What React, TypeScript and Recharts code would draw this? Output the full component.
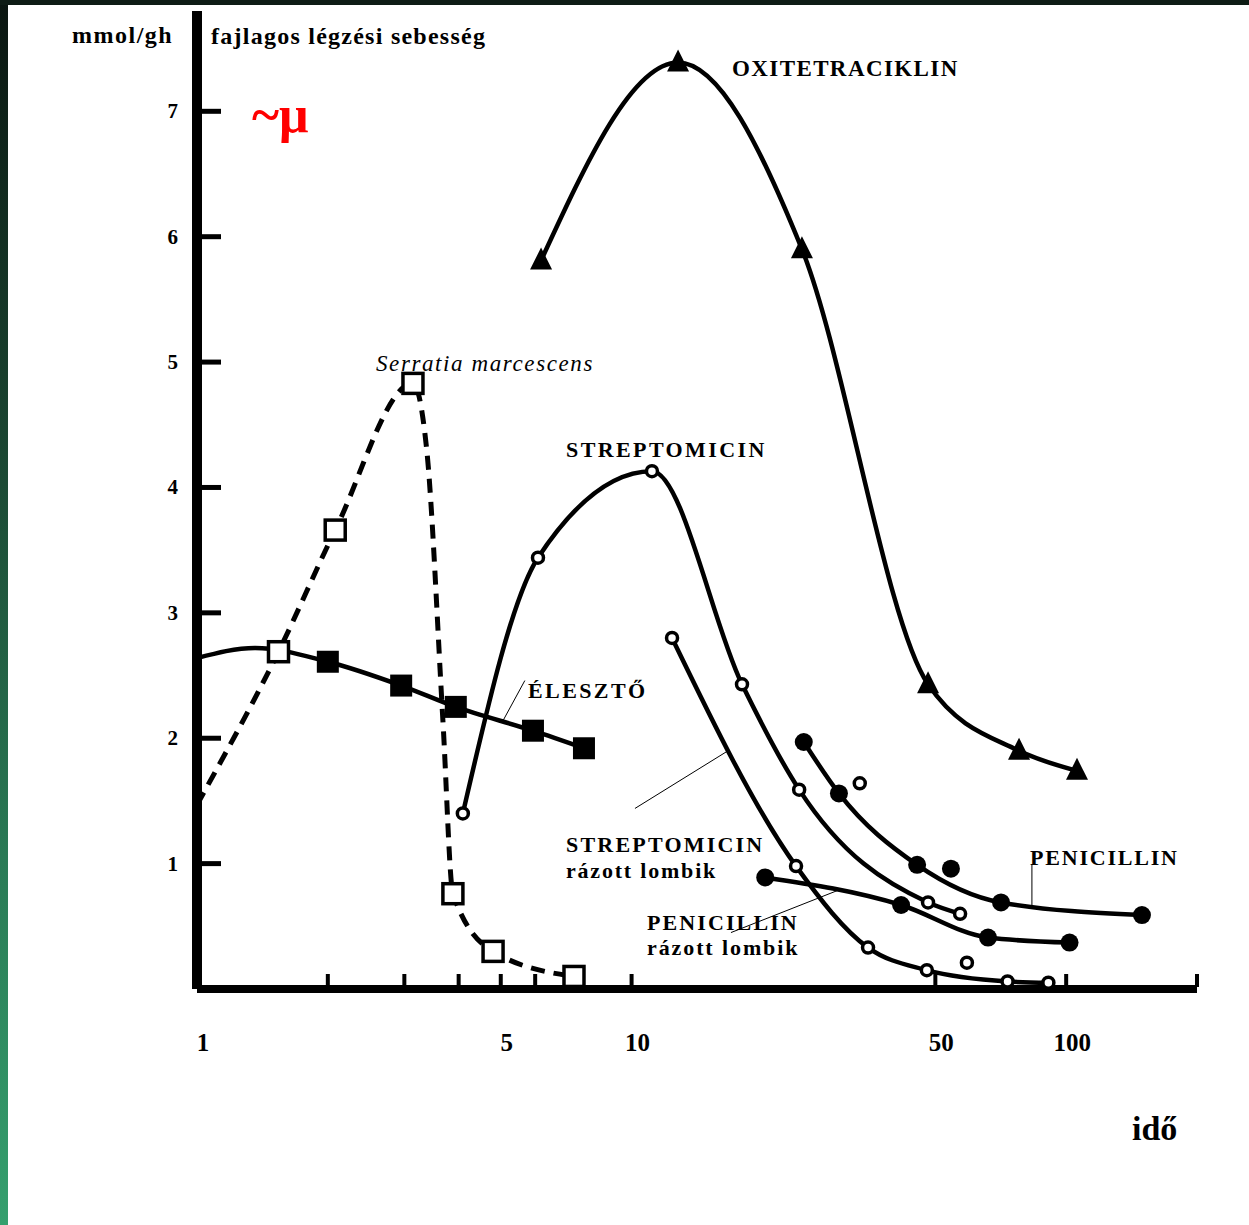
import { ComposedChart, Line, XAxis, YAxis, ReferenceLine } from 'recharts'

// idő (log scale) vs. fajlagos légzési sebesség (mmol/gh)
const serratiaT = [1, 1.54, 2.08, 3.14, 3.38, 3.68, 3.88, 4.8, 7.37]
const serratiaV = [1.47, 2.69, 3.66, 4.83, 4.29, 2.14, 0.76, 0.3, 0.1]
const serratiaM = ['', 'openSq', 'openSq', 'openSq', '', '', 'openSq', 'openSq', 'openSq']

const elesztoT = [1, 1.36, 2.0, 2.95, 3.94, 5.93, 7.77]
const elesztoV = [2.64, 2.72, 2.61, 2.42, 2.25, 2.06, 1.92]
const elesztoM = ['', '', 'fillSq', 'fillSq', 'fillSq', 'fillSq', 'fillSq']

const streptoT = [4.09, 6.09, 11.14, 17.95, 24.3, 48.1, 57.0]
const streptoV = [1.4, 3.44, 4.13, 2.43, 1.59, 0.69, 0.6]

const streptoRazT = [12.39, 23.9, 35.0, 47.8, 73.3, 91]
const streptoRazV = [2.8, 0.98, 0.33, 0.15, 0.06, 0.05]

const peniT = [24.9, 30.0, 45.4, 70.8, 149.4]
const peniV = [1.97, 1.56, 0.99, 0.69, 0.59]

const peniRazT = [20.3, 41.7, 66.1, 101.8]
const peniRazV = [0.89, 0.67, 0.41, 0.37]

const oxiT = [6.19, 12.79, 24.66, 48.1, 77.9, 105.9]
const oxiV = [5.81, 7.39, 5.9, 2.43, 1.9, 1.74]

// loose points that no curve goes through
const strayT = [33.5, 59.1, 54.3]
const strayV = [1.64, 0.21, 0.96]
const strayM = ['openCirc', 'openCirc', 'fillCirc']

const yTicks = [1, 2, 3, 4, 5, 6, 7]
const xTicks = [1, 2, 3, 4, 5, 6, 10, 50, 100, 200]
const xTickMarks = [2, 3, 4, 5, 6, 10, 50, 100, 200]
const xTickLabels = [1, 5, 10, 50, 100]

const build = (t: number[], v: number[], m: string[] | string) =>
    t.map((x, i) => ({ t: x, v: v[i], m: Array.isArray(m) ? m[i] : m }))

const FONT = '"Liberation Serif", "Times New Roman", serif'

const marker = (kind: string, cx: number, cy: number, key: string) => {
    switch (kind) {
        case 'openSq':
            return <rect key={key} x={cx - 10} y={cy - 10} width={20} height={20} fill="#fff" stroke="#000" strokeWidth={3.5} />
        case 'fillSq':
            return <rect key={key} x={cx - 11} y={cy - 11} width={22} height={22} fill="#000" />
        case 'openCirc':
            return <circle key={key} cx={cx} cy={cy} r={5.5} fill="#fff" stroke="#000" strokeWidth={3.5} />
        case 'fillCirc':
            return <circle key={key} cx={cx} cy={cy} r={9} fill="#000" />
        case 'tri':
            return <path key={key} d={`M${cx},${cy - 13} L${cx + 11},${cy + 9} L${cx - 11},${cy + 9} Z`} fill="#000" />
        default:
            return <g key={key} />
    }
}

const dotFor = (name: string) => (p: any) => marker(p.payload?.m, p.cx, p.cy, `${name}-${p.index}`)

const YTick = ({ x, y, payload }: any) => (
    <g>
        <line x1={x + 3} x2={x + 24} y1={y} y2={y} stroke="#000" strokeWidth={5} />
        <text x={x - 19} y={y + 7} textAnchor="end" fontFamily={FONT} fontWeight="bold" fontSize={21} fill="#000">
            {payload.value}
        </text>
    </g>
)

const XTick = ({ x, y, payload }: any) => {
    const v = payload.value
    return (
        <g>
            {xTickMarks.includes(v) && <line x1={x} x2={x} y1={y - 2} y2={y - 15} stroke="#000" strokeWidth={4} />}
            {xTickLabels.includes(v) && (
                <text x={x + 6} y={y + 62} textAnchor="middle" fontFamily={FONT} fontWeight="bold" fontSize={25} fill="#000">
                    {v}
                </text>
            )}
        </g>
    )
}

// annotations: [text, left, baseline, size, letterSpacing, style]
const labels: [string, number, number, number, number, string][] = [
    ['mmol/gh', 72, 43, 24, 1.5, 'b'],
    ['fajlagos légzési sebesség', 211, 44, 24, 1.25, 'b'],
    ['Serratia marcescens', 376, 371, 23, 1.6, 'i'],
    ['OXITETRACIKLIN', 732, 76, 23, 1.4, 'b'],
    ['STREPTOMICIN', 566, 457, 22, 2.4, 'b'],
    ['ÉLESZTŐ', 528, 698, 22, 2.4, 'b'],
    ['STREPTOMICIN', 566, 852, 22, 2.2, 'b'],
    ['rázott lombik', 566, 878, 22, 1.8, 'b'],
    ['PENICILLIN', 647, 930, 22, 2.1, 'b'],
    ['rázott lombik', 647, 955, 22, 1.9, 'b'],
    ['PENICILLIN', 1030, 865, 22, 1.8, 'b'],
    ['idő', 1132, 1140, 34, 0, 'b'],
]

export default function App() {
    const lineProps = {
        type: 'monotone' as const,
        dataKey: 'v',
        stroke: '#000',
        strokeWidth: 4.5,
        activeDot: false as const,
        isAnimationActive: false,
    }

    return (
        <div style={{ position: 'absolute', left: 0, top: 0, width: 1249, height: 1225, background: '#fff', overflow: 'hidden' }}>
            <div style={{ position: 'absolute', left: 0, top: 0, width: 8, height: 1225, background: 'linear-gradient(#0a1510, #1a4430 35%, #2a7a55 70%, #35a06e)' }} />
            <div style={{ position: 'absolute', left: 0, top: 0, width: 1249, height: 5, background: '#0e1c15' }} />
            <div style={{ position: 'absolute', left: 0, top: 0 }}>
                <ComposedChart width={1249} height={1225} margin={{ top: 11, right: 52, bottom: 206, left: 137 }}>
                    <XAxis
                        type="number"
                        dataKey="t"
                        scale="log"
                        domain={[1, 200]}
                        allowDataOverflow
                        ticks={xTicks}
                        interval={0}
                        tickSize={0}
                        tickMargin={0}
                        tickLine={false}
                        tick={(p: any) => <XTick {...p} />}
                        axisLine={{ stroke: '#000', strokeWidth: 8 }}
                        height={30}
                    />
                    <YAxis
                        type="number"
                        dataKey="v"
                        domain={[0, 7.8]}
                        ticks={yTicks}
                        interval={0}
                        tickSize={0}
                        tickMargin={0}
                        tickLine={false}
                        tick={(p: any) => <YTick {...p} />}
                        axisLine={{ stroke: '#000', strokeWidth: 10 }}
                        width={60}
                    />
                    <ReferenceLine segment={[{ x: 5.68, y: 2.46 }, { x: 5.06, y: 2.14 }]} stroke="#000" strokeWidth={1} />
                    <ReferenceLine segment={[{ x: 10.18, y: 1.44 }, { x: 16.67, y: 1.9 }]} stroke="#000" strokeWidth={1} />
                    <ReferenceLine segment={[{ x: 16.93, y: 0.45 }, { x: 30.0, y: 0.79 }]} stroke="#000" strokeWidth={1} />
                    <ReferenceLine segment={[{ x: 83.4, y: 0.99 }, { x: 83.4, y: 0.66 }]} stroke="#000" strokeWidth={1} />

                    <Line {...lineProps} data={build(elesztoT, elesztoV, elesztoM)} dot={dotFor('eleszto')} />
                    <Line {...lineProps} data={build(serratiaT, serratiaV, serratiaM)} strokeWidth={5} strokeDasharray="14 9" dot={dotFor('serratia')} />
                    <Line {...lineProps} data={build(streptoT, streptoV, 'openCirc')} dot={dotFor('strepto')} />
                    <Line {...lineProps} data={build(streptoRazT, streptoRazV, 'openCirc')} dot={dotFor('streptoRaz')} />
                    <Line {...lineProps} data={build(peniT, peniV, 'fillCirc')} dot={dotFor('peni')} />
                    <Line {...lineProps} data={build(peniRazT, peniRazV, 'fillCirc')} dot={dotFor('peniRaz')} />
                    <Line {...lineProps} data={build(oxiT, oxiV, 'tri')} dot={dotFor('oxi')} />
                    <Line {...lineProps} data={build(strayT, strayV, strayM)} stroke="none" dot={dotFor('stray')} />
                </ComposedChart>
            </div>
            <svg width={1249} height={1225} style={{ position: 'absolute', left: 0, top: 0, pointerEvents: 'none' }}>
                {labels.map(([txt, x, y, size, ls, st], i) => (
                    <text
                        key={i}
                        x={x}
                        y={y}
                        fontFamily={FONT}
                        fontSize={size}
                        fontWeight={st === 'b' ? 'bold' : 'normal'}
                        fontStyle={st === 'i' ? 'italic' : 'normal'}
                        letterSpacing={ls}
                        fill="#000"
                    >
                        {txt}
                    </text>
                ))}
                <text x={252} y={132} fontFamily={FONT} fontSize={52} fontWeight="bold" fill="#ff0000">~μ</text>
            </svg>
        </div>
    )
}
